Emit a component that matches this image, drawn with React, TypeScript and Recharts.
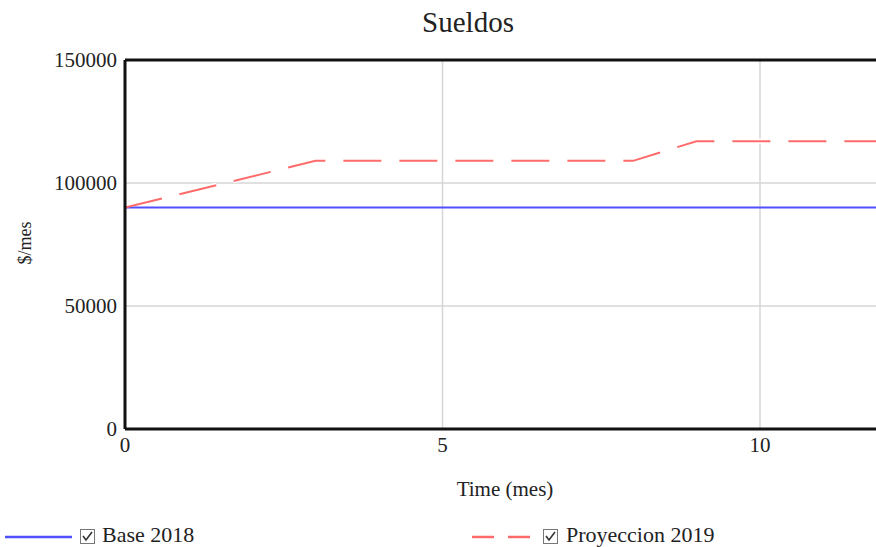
import { CartesianGrid, Line, LineChart, ReferenceLine, XAxis, YAxis } from 'recharts'

// Sueldos: base 2018 vs. proyeccion 2019 ($/mes per mes)
const baseTime = [0, 12]
const baseValues = [90000, 90000]
const proyTime = [0, 3, 8, 9, 12]
const proyValues = [90000, 109000, 109000, 117000, 117000]
const xTicks = [0, 5, 10]
const yTicks = [0, 50000, 100000, 150000]

const BLUE = '#5050ff'
const RED = '#ff6b6b'
const FONT = '"Liberation Serif", "Times New Roman", serif'
const DASH = '38 18'

const baseData = baseTime.map((t, i) => ({ t, v: baseValues[i] }))
const proyData = proyTime.map((t, i) => ({ t, v: proyValues[i] }))

const tick = { fill: '#222', fontSize: 21, fontFamily: FONT }

function CheckBox({ x }: { x: number }) {
  return (
    <svg width={16} height={16} style={{ position: 'absolute', left: x, top: 529 }}>
      <rect x={0.5} y={0.5} width={14} height={14} fill="#fff" stroke="#777" />
      <path d="M3 7 L6 11 L12 3" fill="none" stroke="#333" strokeWidth={1.6} />
    </svg>
  )
}

export default function App() {
  return (
    <div
      style={{
        position: 'absolute',
        left: 0,
        top: 0,
        width: 876,
        height: 547,
        overflow: 'hidden',
        background: '#fff',
        fontFamily: FONT,
        color: '#222',
      }}
    >
      <div style={{ position: 'absolute', left: 0, width: 936, top: 6, textAlign: 'center', fontSize: 29 }}>
        Sueldos
      </div>
      <div
        style={{
          position: 'absolute',
          left: 25,
          top: 243,
          fontSize: 18,
          transform: 'translate(-50%, -50%) rotate(-90deg)',
          whiteSpace: 'nowrap',
        }}
      >
        $/mes
      </div>

      <div style={{ position: 'absolute', left: 0, top: 0 }}>
        <LineChart width={900} height={547} margin={{ top: 60, right: 13, bottom: 78, left: 5 }}>
          <CartesianGrid stroke="#d6d6d6" strokeWidth={1.5} />
          <XAxis
            type="number"
            dataKey="t"
            domain={[0, 12]}
            ticks={xTicks}
            allowDataOverflow
            height={40}
            tickLine={false}
            tickSize={0}
            tickMargin={8}
            axisLine={{ stroke: '#111', strokeWidth: 3 }}
            tick={tick}
          />
          <YAxis
            type="number"
            domain={[0, 150000]}
            ticks={yTicks}
            width={120}
            tickLine={false}
            tickSize={0}
            tickMargin={8}
            axisLine={{ stroke: '#111', strokeWidth: 3 }}
            tick={tick}
          />
          <ReferenceLine y={150000} stroke="#111" strokeWidth={3} />
          <Line
            data={proyData}
            dataKey="v"
            stroke="#fff"
            strokeWidth={5}
            strokeDasharray={DASH}
            dot={false}
            isAnimationActive={false}
          />
          <Line
            data={baseData}
            dataKey="v"
            name="Base 2018"
            stroke={BLUE}
            strokeWidth={2}
            dot={false}
            isAnimationActive={false}
          />
          <Line
            data={proyData}
            dataKey="v"
            name="Proyeccion 2019"
            stroke={RED}
            strokeWidth={2}
            strokeDasharray={DASH}
            dot={false}
            isAnimationActive={false}
          />
        </LineChart>
      </div>

      <div style={{ position: 'absolute', left: 0, width: 1010, top: 477, textAlign: 'center', fontSize: 21 }}>
        Time (mes)
      </div>

      <svg width={876} height={20} style={{ position: 'absolute', left: 0, top: 527 }}>
        <line x1={5} x2={72} y1={10} y2={10} stroke={BLUE} strokeWidth={2.5} />
        <line x1={472} x2={530} y1={10} y2={10} stroke={RED} strokeWidth={2.5} strokeDasharray="22 14" />
      </svg>
      <CheckBox x={80} />
      <div style={{ position: 'absolute', left: 102, top: 522, fontSize: 22, whiteSpace: 'nowrap' }}>Base 2018</div>
      <CheckBox x={543} />
      <div style={{ position: 'absolute', left: 566, top: 522, fontSize: 22, whiteSpace: 'nowrap' }}>
        Proyeccion 2019
      </div>
    </div>
  )
}
